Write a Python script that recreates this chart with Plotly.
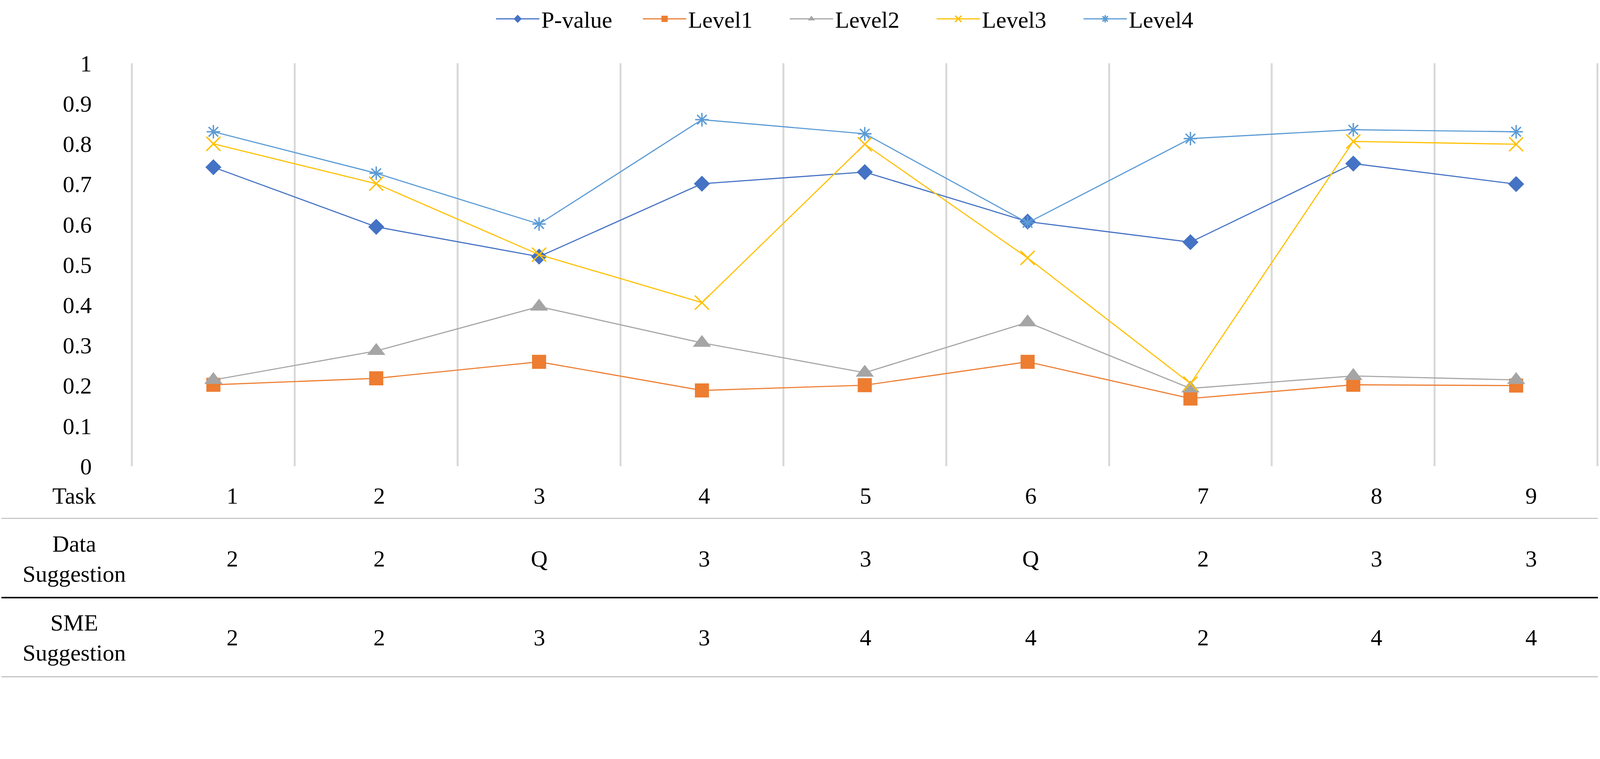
import plotly.graph_objects as go

# ---------------- data ----------------
tasks = [1, 2, 3, 4, 5, 6, 7, 8, 9]
task_labels = ["1", "2", "3", "4", "5", "6", "7", "8", "9"]
p_value = [0.742, 0.594, 0.520, 0.701, 0.730, 0.607, 0.556, 0.751, 0.700]
level1 = [0.202, 0.218, 0.259, 0.188, 0.201, 0.259, 0.168, 0.202, 0.200]
level2 = [0.214, 0.286, 0.396, 0.306, 0.232, 0.357, 0.193, 0.224, 0.214]
level3 = [0.800, 0.701, 0.525, 0.406, 0.799, 0.517, 0.205, 0.806, 0.799]
level4 = [0.830, 0.727, 0.601, 0.860, 0.825, 0.604, 0.813, 0.835, 0.830]
data_suggestion = ["2", "2", "Q", "3", "3", "Q", "2", "3", "3"]
sme_suggestion = ["2", "2", "3", "3", "4", "4", "2", "4", "4"]
y_ticks = [0, 0.1, 0.2, 0.3, 0.4, 0.5, 0.6, 0.7, 0.8, 0.9, 1]
row_labels = ["Task", "Data<br>Suggestion", "SME<br>Suggestion"]
boundaries = [0.5, 1.5, 2.5, 3.5, 4.5, 5.5, 6.5, 7.5, 8.5, 9.5]

# ---------------- layout / style (target pixels) ----------------
K = 1.11                      # page pixel ratio seen in the renderer
W, H = 4550, 1944             # target picture size
X_LO, X_HI = 0.45, 9.515      # x range (task units)
G0, G1 = 375, 4540            # pixel x of first / last boundary line
U = (G1 - G0) / 9.0           # pixels per task
PL = G0 - (0.5 - X_LO) * U    # plot area left / right (target px)
PR = G1 + (X_HI - 9.5) * U
T, PB = 161, 1326             # plot area top / bottom (target px)
PW, PH = PR - PL, PB - T
FONT = "Liberation Serif, Times New Roman, serif"


def c(v):  # target px -> css px
    return v / K


def py(p):  # target pixel y -> paper y
    return (PB - p) / PH


def px(p):  # target pixel x -> paper x
    return (p - PL) / PW


FS = c(66)
col_shift = [54, 9, 1, 7, 2, 9, 36, 66, 43]  # table column offsets (target px)

series = [
    ("P-value", p_value, "#4472C4", "diamond", 35, 0),
    ("Level1", level1, "#ED7D31", "square", 40, 0),
    ("Level2", level2, "#A5A5A5", "triangle-up", 45, 0),
    ("Level3", level3, "#FFC000", "x-thin-open", 40, 4),
    ("Level4", level4, "#5B9BD5", "asterisk-open", 32, 4),
]

fig = go.Figure()
for name, vals, col, sym, size, lw in series:
    fig.add_trace(go.Scatter(
        x=tasks, y=vals, name=name, mode="lines+markers",
        line=dict(color=col, width=c(3.2)),
        marker=dict(symbol=sym, size=c(size), color=col,
                    line=dict(color=col, width=c(lw))),
    ))

annotations = []
for j, t in enumerate(tasks):
    for txt, ypix in ((task_labels[j], 1412), (data_suggestion[j], 1594),
                      (sme_suggestion[j], 1822)):
        annotations.append(dict(
            x=t, xref="x", y=py(ypix), yref="paper", text=txt, showarrow=False,
            xshift=c(col_shift[j]), xanchor="center", yanchor="middle",
            font=dict(family=FONT, size=FS, color="black")))
for lab, ypix in zip(row_labels, (1412, 1594, 1822)):
    annotations.append(dict(
        x=px(211), xref="paper", y=py(ypix), yref="paper", text=lab,
        showarrow=False, xanchor="center", yanchor="middle", align="center",
        font=dict(family=FONT, size=FS, color="black")))

shapes = []
for ypix, col, w in ((1477, "#BFBFBF", 3), (1706, "black", 4), (1935, "#BFBFBF", 3)):
    shapes.append(dict(type="line", xref="paper", yref="paper",
                       x0=px(4), x1=px(4541), y0=py(ypix), y1=py(ypix),
                       line=dict(color=col, width=c(w))))

fig.update_layout(
    width=c(W), height=c(H),
    margin=dict(l=c(PL), r=c(W - PR), t=c(T), b=c(H - PB), pad=0),
    paper_bgcolor="white", plot_bgcolor="white",
    font=dict(family=FONT, size=FS, color="black"),
    showlegend=True,
    legend=dict(orientation="h", x=px(1404), xanchor="left",
                y=py(33), yanchor="middle", font=dict(size=FS),
                itemwidth=111, entrywidth=250, entrywidthmode="pixels",
                bgcolor="rgba(0,0,0,0)"),
    xaxis=dict(range=[X_LO, X_HI], tickmode="array", tickvals=boundaries,
               showgrid=True, gridcolor="#D9D9D9", gridwidth=c(5),
               showticklabels=False, ticks="", showline=False,
               zeroline=False),
    yaxis=dict(range=[0, 1], tickvals=y_ticks, showgrid=False, zeroline=False,
               showline=False, ticks="",
               ticklabelstandoff=int(round(c(67 + G0 - PL))),
               tickfont=dict(family=FONT, size=FS, color="black")),
    annotations=annotations,
    shapes=shapes,
)

fig.write_html("out.html", config={"displayModeBar": False},
               post_script="document.body.style.margin='0px';")
